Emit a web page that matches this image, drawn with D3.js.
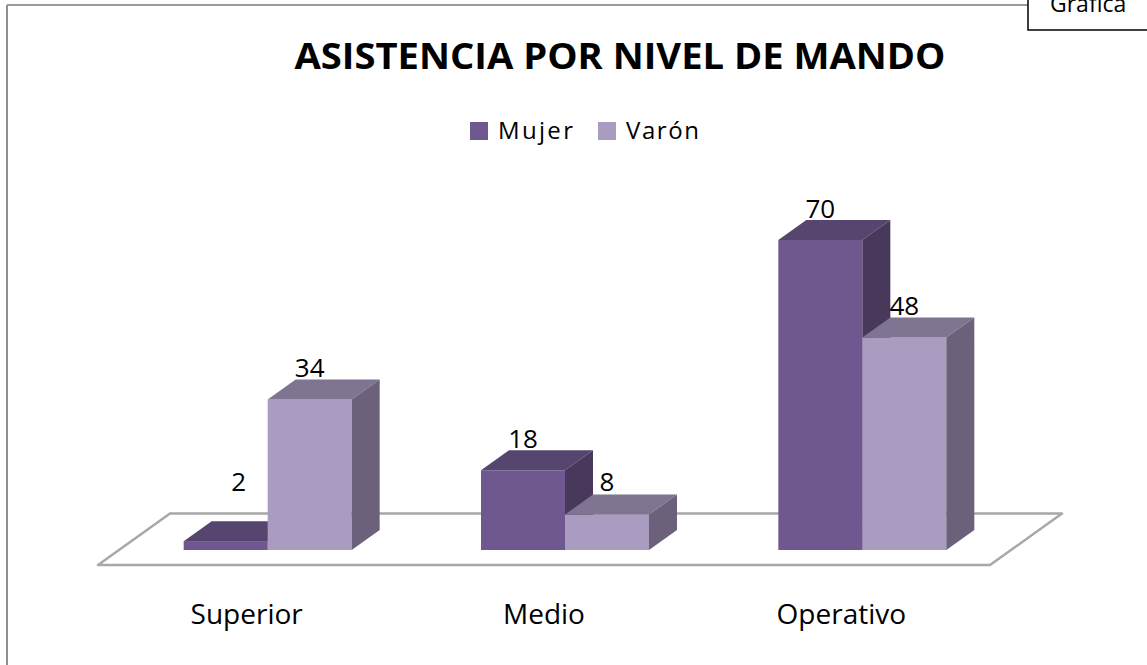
<!DOCTYPE html>
<html>
<head>
<meta charset="utf-8">
<script src="https://cdn.jsdelivr.net/npm/d3@7"></script>
<style>
  body { margin: 0; background: #fff; }
  text { font-family: "Open Sans", "Noto Sans", sans-serif; fill: #000; }
</style>
</head>
<body>
<svg id="chart" width="1147" height="665"></svg>
<script>

var categories = ["Superior", "Medio", "Operativo"]
var series = ["Mujer", "Varón"]
var mujer = [2, 18, 70]
var varon = [34, 8, 48]
var title = "ASISTENCIA POR NIVEL DE MANDO"

var svg = d3.select("#chart")

// face colours per series: front, top, side
var faces = {
  "Mujer": ["#6f578f", "#56466f", "#48395c"],
  "Varón": ["#aa9bc0", "#7f7491", "#6b617a"]
}

// oblique depth: z in px to the right, rises 0.714 px per px
var ky = 0.714
var barDepth = 28
var floorFront = -21, floorBack = 51

var x = d3.scaleBand().domain(categories).range([119, 1011])
var xs = d3.scaleBand().domain(series).range([0, x.bandwidth()]).paddingInner(0).paddingOuter(0.77)
var y = d3.scaleLinear().domain([0, 70]).range([550, 240])

function proj(px, py, z) { return [px + z, py - z * ky] }

// outer frame
svg.append("line").attr("x1", 7).attr("y1", 5).attr("x2", 7).attr("y2", 665)
  .style("stroke", "#8e8e8e").style("stroke-width", 2)
svg.append("line").attr("x1", 7).attr("y1", 5).attr("x2", 1028).attr("y2", 5)
  .style("stroke", "#9a9a9a").style("stroke-width", 2)

// "Gráfica" tag box (clipped at the top edge, as in the original)
svg.append("path").attr("d", "M1028,0 L1028,30 L1147,30")
  .style("fill", "none").style("stroke", "#000").style("stroke-width", 1.5)
svg.append("text").attr("x", 1050).attr("y", 12).style("font-size", "23px").text("Gráfica")

// title
svg.append("text")
  .attr("x", 620).attr("y", 69)
  .attr("text-anchor", "middle")
  .attr("textLength", 651).attr("lengthAdjust", "spacingAndGlyphs")
  .style("font-size", "36px").style("font-weight", "bold")
  .text(title)

// legend
var legendX = [470, 598]
var legend = svg.selectAll(".legend").data(series).enter().append("g")
  .attr("class", "legend")
  .attr("transform", function(d, i) { return "translate(" + legendX[i] + ",122)" })
legend.append("rect").attr("width", 18).attr("height", 18)
  .style("fill", function(d) { return faces[d][0] })
legend.append("text").attr("x", 28).attr("y", 17)
  .attr("textLength", function(d) { return d == "Mujer" ? 75 : 73 })
  .attr("lengthAdjust", "spacing")
  .style("font-size", "24px")
  .text(function(d) { return d })

// floor
var y0 = y(0)
var floorPts = [
  proj(x.range()[0], y0, floorFront), proj(x.range()[1], y0, floorFront),
  proj(x.range()[1], y0, floorBack), proj(x.range()[0], y0, floorBack)
]
svg.append("polygon")
  .attr("points", floorPts.map(function(p) { return p.join(",") }).join(" "))
  .style("fill", "#fff").style("stroke", "#a8a8a8").style("stroke-width", 2.5)
  .style("stroke-linejoin", "round")

// bars
var bars = []
categories.forEach(function(c, i) {
  bars.push({cat: c, ser: "Mujer", value: mujer[i]})
  bars.push({cat: c, ser: "Varón", value: varon[i]})
})

var w = xs.bandwidth()

var bar = svg.selectAll(".bar").data(bars).enter().append("g").attr("class", "bar")

bar.each(function(d) {
  var g = d3.select(this)
  var x0 = x(d.cat) + xs(d.ser)
  var yt = y(d.value)
  var dy = -barDepth * ky
  var col = faces[d.ser]
  g.append("rect").attr("x", x0).attr("y", yt).attr("width", w).attr("height", y0 - yt)
    .style("fill", col[0])
  g.append("polygon")
    .attr("points", [[x0, yt], [x0 + w, yt], [x0 + w + barDepth, yt + dy], [x0 + barDepth, yt + dy]].join(" "))
    .style("fill", col[1])
  g.append("polygon")
    .attr("points", [[x0 + w, yt], [x0 + w + barDepth, yt + dy], [x0 + w + barDepth, y0 + dy], [x0 + w, y0]].join(" "))
    .style("fill", col[2])
})

// value labels
svg.selectAll(".value").data(bars).enter().append("text")
  .attr("class", "value")
  .attr("text-anchor", "middle")
  .style("font-size", "26px")
  .attr("x", function(d) {
    var cx = x(d.cat) + xs(d.ser) + w / 2
    return (y0 - y(d.value) < 20) ? cx + 13 : cx
  })
  .attr("y", function(d) { return Math.min(y(d.value) - barDepth * ky - 2, 491) })
  .text(function(d) { return d.value })

// category labels along the front edge of the floor
svg.selectAll(".cat").data(categories).enter().append("text")
  .attr("class", "cat")
  .attr("text-anchor", "middle")
  .style("font-size", "28px")
  .attr("x", function(d) { return x(d) + x.bandwidth() / 2 + floorFront })
  .attr("y", 624)
  .text(function(d) { return d })

</script>
</body>
</html>
